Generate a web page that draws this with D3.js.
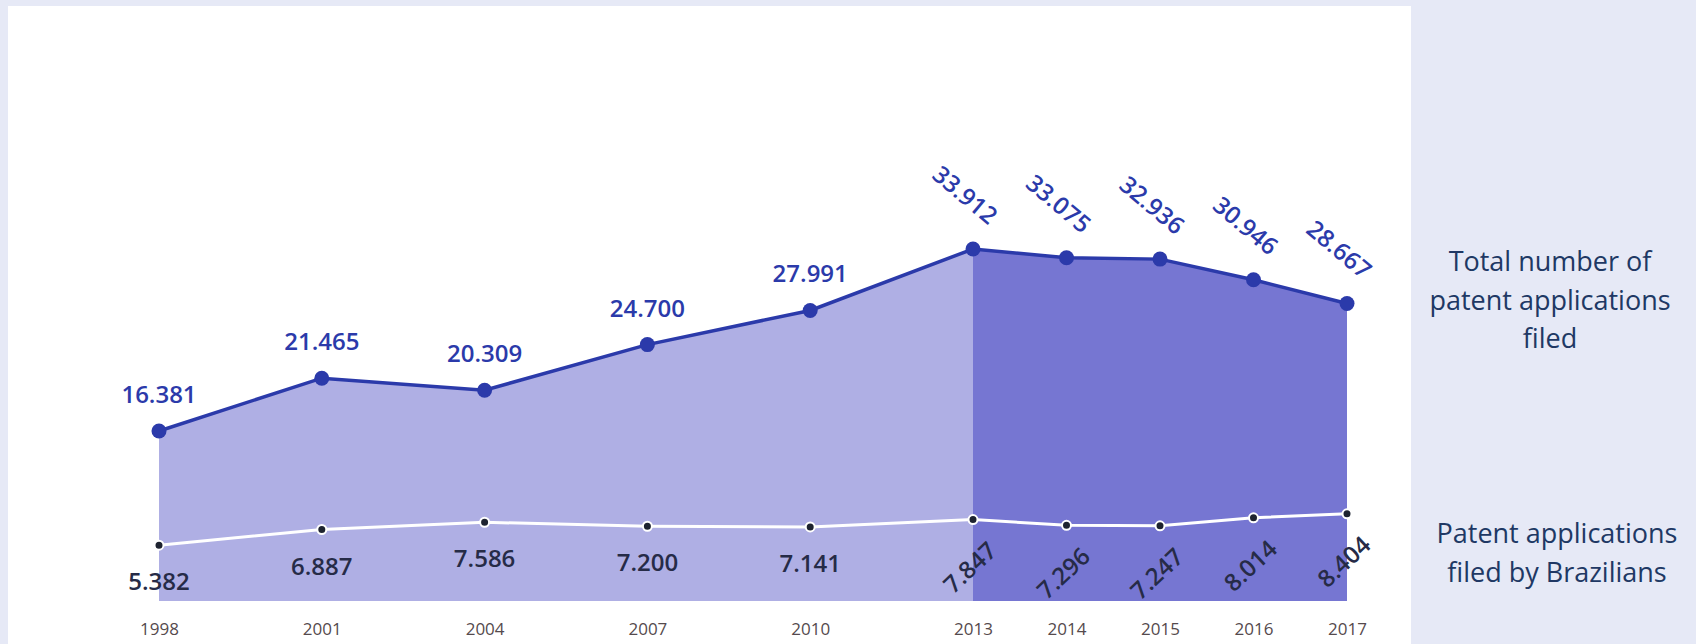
<!DOCTYPE html>
<html>
<head>
<meta charset="utf-8">
<script src="https://cdn.jsdelivr.net/npm/d3@7"></script>
<style>
  html, body { margin: 0; padding: 0; background: #E6E9F6; }
  svg { display: block; }
</style>
</head>
<body>
<svg id="chart" width="1696" height="644"></svg>
<script>
// Patent applications filed in Brazil, 1998–2017
const years = [1998, 2001, 2004, 2007, 2010, 2013, 2014, 2015, 2016, 2017];
const totalFiled = [16381, 21465, 20309, 24700, 27991, 33912, 33075, 32936, 30946, 28667];
const brazilianFiled = [5382, 6887, 7586, 7200, 7141, 7847, 7296, 7247, 8014, 8404];
// From this year on the period is shaded darker and labels are slanted
const annualFrom = 2013;
const legendTotal = ["Total number of", "patent applications", "filed"];
const legendBrazilian = ["Patent applications", "filed by Brazilians"];

const svg = d3.select("#chart");

// white card behind the chart
svg.append("rect")
  .attr("x", 8).attr("y", 6)
  .attr("width", 1403).attr("height", 644)
  .attr("fill", "#ffffff");

// three-yearly points first, then yearly points on a tighter spacing
const x = d3.scaleLinear()
  .domain([1998, annualFrom, 2017])
  .range([159, 973, 1347]);

const y = d3.scaleLinear()
  .domain([0, 40000])
  .range([601, 185.8]);

const rows = years.map((yr, i) => ({ year: yr, total: totalFiled[i], br: brazilianFiled[i] }));
const early = rows.filter(d => d.year <= annualFrom);
const late = rows.filter(d => d.year >= annualFrom);

const area = d3.area()
  .x(d => x(d.year))
  .y0(y(0))
  .y1(d => y(d.total));

svg.append("path").datum(early).attr("d", area).attr("fill", "#AFAFE4");
svg.append("path").datum(late).attr("d", area).attr("fill", "#7676D2");

const lineTotal = d3.line().x(d => x(d.year)).y(d => y(d.total));
const lineBr = d3.line().x(d => x(d.year)).y(d => y(d.br));

svg.append("path").datum(rows).attr("d", lineBr)
  .attr("fill", "none").attr("stroke", "#ffffff").attr("stroke-width", 3);

svg.append("path").datum(rows).attr("d", lineTotal)
  .attr("fill", "none").attr("stroke", "#2B3AAA").attr("stroke-width", 3.5);

svg.selectAll("circle.total").data(rows).join("circle")
  .attr("class", "total")
  .attr("cx", d => x(d.year)).attr("cy", d => y(d.total))
  .attr("r", 7.5).attr("fill", "#2B3AAA");

svg.selectAll("circle.br").data(rows).join("circle")
  .attr("class", "br")
  .attr("cx", d => x(d.year)).attr("cy", d => y(d.br))
  .attr("r", 4.5).attr("fill", "#1E2330")
  .attr("stroke", "#ffffff").attr("stroke-width", 2);

// Brazilian-style thousands separator
const fmt = d3.formatLocale({ decimal: ",", thousands: ".", grouping: [3], currency: ["", ""] }).format(",d");

const valueFont = "'Open Sans', 'Noto Sans', sans-serif";

svg.selectAll("text.total").data(rows).join("text")
  .attr("class", "total")
  .attr("transform", d => d.year < annualFrom
    ? `translate(${x(d.year)},${y(d.total) - 28})`
    : `translate(${x(d.year) - 8},${y(d.total) - 54}) rotate(40)`)
  .attr("dy", d => d.year < annualFrom ? 0 : "0.35em")
  .attr("text-anchor", "middle")
  .attr("font-family", valueFont)
  .attr("font-weight", 600)
  .attr("font-size", 24)
  .attr("fill", "#2B3AAA")
  .text(d => fmt(d.total));

svg.selectAll("text.br").data(rows).join("text")
  .attr("class", "br")
  .attr("transform", d => d.year < annualFrom
    ? `translate(${x(d.year)},${y(d.br) + 45})`
    : `translate(${x(d.year) - 3},${y(d.br) + 48}) rotate(-43)`)
  .attr("dy", d => d.year < annualFrom ? 0 : "0.35em")
  .attr("text-anchor", "middle")
  .attr("font-family", valueFont)
  .attr("font-weight", 600)
  .attr("font-size", 24)
  .attr("fill", "#262B47")
  .text(d => fmt(d.br));

// year axis
const xAxis = d3.axisBottom(x)
  .tickValues(years)
  .tickFormat(d3.format("d"))
  .tickSize(0)
  .tickPadding(22);

const axisG = svg.append("g")
  .attr("transform", `translate(0,${y(0)})`)
  .call(xAxis);
axisG.select(".domain").remove();
axisG.selectAll("text")
  .attr("font-family", "'Liberation Sans Narrow', 'Open Sans', sans-serif")
  .attr("font-size", 17)
  .attr("fill", "#554A4D");

// legend labels on the right
function legend(lines, cx, firstBaseline, lineGap) {
  const t = svg.append("text")
    .attr("text-anchor", "middle")
    .attr("font-family", "'Open Sans', 'Noto Sans', sans-serif")
    .attr("font-size", 27)
    .attr("fill", "#203864");
  t.selectAll("tspan").data(lines).join("tspan")
    .attr("x", cx)
    .attr("y", (d, i) => firstBaseline + i * lineGap)
    .text(d => d);
}
legend(legendTotal, 1550, 271, 38.5);
legend(legendBrazilian, 1557, 543, 39);
</script>
</body>
</html>
